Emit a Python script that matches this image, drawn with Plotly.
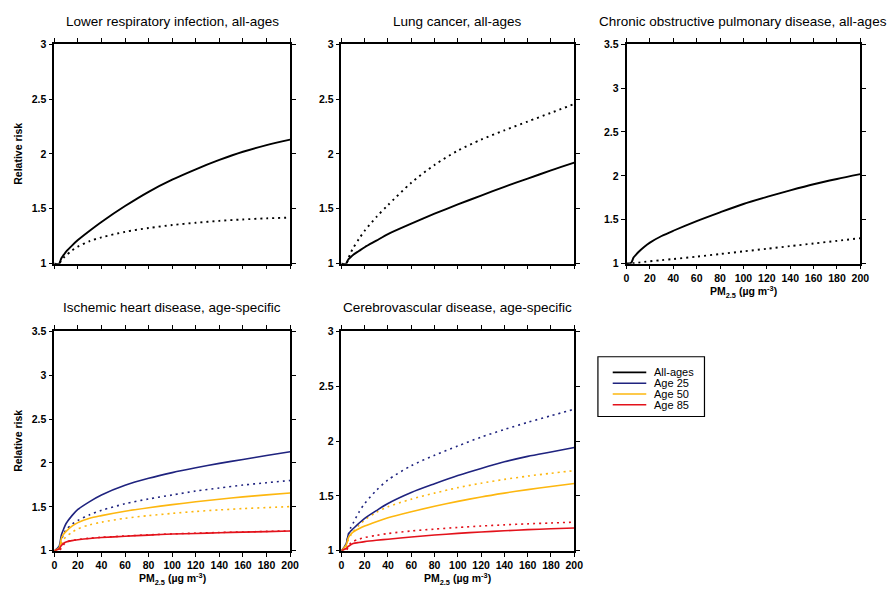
import plotly.graph_objects as go

W, H = 896, 592

# ---------------- data ----------------
PM = [0, 4, 6, 8, 10, 15, 20, 30, 40, 60, 80, 100, 120, 140, 160, 180, 200]

lri_solid = [1.00, 1.00, 1.05, 1.08, 1.11, 1.165, 1.215, 1.30, 1.38, 1.525, 1.655, 1.765, 1.86, 1.945, 2.02, 2.08, 2.13]
lri_dot = [1.00, 1.00, 1.03, 1.055, 1.075, 1.12, 1.155, 1.205, 1.24, 1.29, 1.325, 1.352, 1.373, 1.39, 1.403, 1.413, 1.42]

lc_solid = [1.00, 1.00, 1.04, 1.06, 1.08, 1.115, 1.15, 1.21, 1.27, 1.365, 1.455, 1.54, 1.62, 1.70, 1.775, 1.85, 1.92]
lc_dot = [1.00, 1.00, 1.05, 1.10, 1.14, 1.225, 1.30, 1.425, 1.534, 1.737, 1.90, 2.03, 2.13, 2.215, 2.295, 2.375, 2.455]

copd_solid = [1.00, 1.01, 1.07, 1.10, 1.13, 1.19, 1.24, 1.315, 1.375, 1.485, 1.585, 1.68, 1.76, 1.835, 1.905, 1.965, 2.02]
copd_dot = [1.00, 1.00, 1.005, 1.01, 1.012, 1.02, 1.027, 1.04, 1.053, 1.08, 1.11, 1.14, 1.17, 1.20, 1.23, 1.26, 1.29]

ihd_25_solid = [1.00, 1.05, 1.18, 1.25, 1.31, 1.40, 1.47, 1.56, 1.635, 1.745, 1.825, 1.89, 1.945, 1.995, 2.04, 2.085, 2.127]
ihd_25_dot = [1.00, 1.00, 1.12, 1.19, 1.24, 1.30, 1.345, 1.41, 1.46, 1.535, 1.59, 1.635, 1.68, 1.715, 1.748, 1.775, 1.80]
ihd_50_solid = [1.00, 1.03, 1.14, 1.19, 1.22, 1.28, 1.32, 1.37, 1.40, 1.45, 1.49, 1.525, 1.557, 1.587, 1.613, 1.636, 1.657]
ihd_50_dot = [1.00, 1.00, 1.08, 1.13, 1.16, 1.21, 1.25, 1.295, 1.325, 1.37, 1.40, 1.425, 1.447, 1.465, 1.48, 1.492, 1.503]
ihd_85_solid = [1.00, 1.02, 1.06, 1.085, 1.10, 1.115, 1.125, 1.14, 1.15, 1.165, 1.178, 1.19, 1.197, 1.205, 1.212, 1.218, 1.224]
ihd_85_dot = [1.00, 1.00, 1.03, 1.07, 1.095, 1.118, 1.128, 1.143, 1.153, 1.168, 1.181, 1.192, 1.20, 1.208, 1.214, 1.22, 1.226]

str_25_solid = [1.00, 1.06, 1.15, 1.18, 1.20, 1.25, 1.295, 1.365, 1.43, 1.53, 1.61, 1.685, 1.75, 1.81, 1.86, 1.90, 1.94]
str_25_dot = [1.00, 1.06, 1.15, 1.21, 1.25, 1.35, 1.43, 1.55, 1.645, 1.775, 1.87, 1.955, 2.035, 2.105, 2.17, 2.23, 2.29]
str_50_solid = [1.00, 1.05, 1.12, 1.15, 1.17, 1.20, 1.225, 1.265, 1.30, 1.355, 1.405, 1.45, 1.49, 1.525, 1.557, 1.585, 1.612]
str_50_dot = [1.00, 1.03, 1.10, 1.14, 1.17, 1.23, 1.28, 1.35, 1.40, 1.47, 1.525, 1.575, 1.615, 1.65, 1.68, 1.706, 1.73]
str_85_solid = [1.00, 1.02, 1.04, 1.055, 1.065, 1.075, 1.083, 1.095, 1.105, 1.125, 1.143, 1.158, 1.171, 1.182, 1.192, 1.20, 1.207]
str_85_dot = [1.00, 1.00, 1.04, 1.07, 1.085, 1.105, 1.12, 1.14, 1.157, 1.18, 1.197, 1.212, 1.225, 1.236, 1.245, 1.253, 1.26]

titles = ["Lower respiratory infection, all-ages", "Lung cancer, all-ages",
          "Chronic obstructive pulmonary disease, all-ages",
          "Ischemic heart disease, age-specific", "Cerebrovascular disease, age-specific"]
legend_labels = ["All-ages", "Age 25", "Age 50", "Age 85"]
y_max = [3, 3, 3.5, 3.5, 3]
x_ticks = [0, 20, 40, 60, 80, 100, 120, 140, 160, 180, 200]

# ---------------- style ----------------
BLACK = "#000000"
BLUE = "#1f237f"
GOLD = "#fdb70f"
RED = "#e3121b"
colors = [BLACK, BLUE, GOLD, RED]
FONT = "Liberation Sans, Arial, Helvetica, sans-serif"
DOT = "2px,4px"

def px(x):
    return x / W

def py(y):
    return 1 - y / H

# panel boxes in pixels: (left, right, top, bottom), title y
boxes = [(52, 291, 39, 263), (343, 579, 39, 263), (632, 869, 39, 263),
         (52, 291, 332, 556), (343, 579, 332, 556)]
title_y = [16, 16, 16, 308, 308]

panels = [
    [(lri_solid, BLACK, None), (lri_dot, BLACK, DOT)],
    [(lc_solid, BLACK, None), (lc_dot, BLACK, DOT)],
    [(copd_solid, BLACK, None), (copd_dot, BLACK, DOT)],
    [(ihd_25_dot, BLUE, DOT), (ihd_50_dot, GOLD, DOT), (ihd_85_dot, RED, DOT),
     (ihd_25_solid, BLUE, None), (ihd_50_solid, GOLD, None), (ihd_85_solid, RED, None)],
    [(str_25_dot, BLUE, DOT), (str_50_dot, GOLD, DOT), (str_85_dot, RED, DOT),
     (str_25_solid, BLUE, None), (str_50_solid, GOLD, None), (str_85_solid, RED, None)],
]

fig = go.Figure()
layout = dict(width=W, height=H, margin=dict(l=0, r=0, t=0, b=0),
              paper_bgcolor="white", plot_bgcolor="white", showlegend=False,
              font=dict(family=FONT, color="black"))
annotations = []
shapes = []

for i, (series, box, ymax, title, ty) in enumerate(zip(panels, boxes, y_max, titles, title_y)):
    n = i + 1
    xa = "x" if n == 1 else f"x{n}"
    ya = "y" if n == 1 else f"y{n}"
    for vals, col, dash in series:
        fig.add_trace(go.Scatter(
            x=PM, y=vals, xaxis=xa, yaxis=ya, mode="lines",
            line=dict(color=col, width=1.9 if col == BLACK else 1.6,
                      dash=dash if dash else "solid", shape="spline", smoothing=0.8),
            hoverinfo="skip"))
    l, r, t, b = box
    show_x = n in (3, 4, 5)
    common = dict(showline=True, linecolor="black", linewidth=1.6, mirror="ticks",
                  ticks="outside", ticklen=4, tickwidth=1.3, tickcolor="black",
                  showgrid=False, zeroline=False,
                  tickfont=dict(family=FONT, size=10.5, color="black", weight="bold"))
    layout["xaxis" if n == 1 else f"xaxis{n}"] = dict(
        common, domain=[px(l), px(r)], anchor=ya, range=[0, 200],
        tickvals=x_ticks, showticklabels=show_x)
    layout["yaxis" if n == 1 else f"yaxis{n}"] = dict(
        common, domain=[py(b), py(t)], anchor=xa, range=[1, ymax],
        dtick=0.5, tick0=1)
    annotations.append(dict(
        text=title, x=px((l + r) / 2), y=py(ty), xref="paper", yref="paper",
        xanchor="center", yanchor="middle", showarrow=False,
        font=dict(family=FONT, size=13.5, color="black")))
    if n in (1, 4):
        annotations.append(dict(
            text="Relative risk", x=px(15), y=py((t + b) / 2), xref="paper", yref="paper",
            xanchor="center", yanchor="middle", showarrow=False, textangle=-90,
            font=dict(family=FONT, size=10.5, color="black", weight="bold")))
    if show_x:
        annotations.append(dict(
            text="PM<sub>2.5</sub> (\u00b5g m<sup>-3</sup>)", x=px((l + r) / 2),
            y=py(b + 29), xref="paper", yref="paper", xanchor="center", yanchor="middle",
            showarrow=False, font=dict(family=FONT, size=10.5, color="black", weight="bold")))

# legend box
shapes.append(dict(type="rect", xref="paper", yref="paper",
                   x0=px(603), x1=px(711), y0=py(419), y1=py(358),
                   line=dict(color="black", width=1.2), fillcolor="white"))
for k, (lab, col) in enumerate(zip(legend_labels, colors)):
    yy = 374 + k * 11
    shapes.append(dict(type="line", xref="paper", yref="paper",
                       x0=px(618), x1=px(652), y0=py(yy), y1=py(yy),
                       line=dict(color=col, width=1.6)))
    annotations.append(dict(text=lab, x=px(658), y=py(yy), xref="paper", yref="paper",
                            xanchor="left", yanchor="middle", showarrow=False,
                            font=dict(family=FONT, size=11, color="black")))

layout["annotations"] = annotations
layout["shapes"] = shapes
fig.update_layout(**layout)
fig.write_html("out.html")
